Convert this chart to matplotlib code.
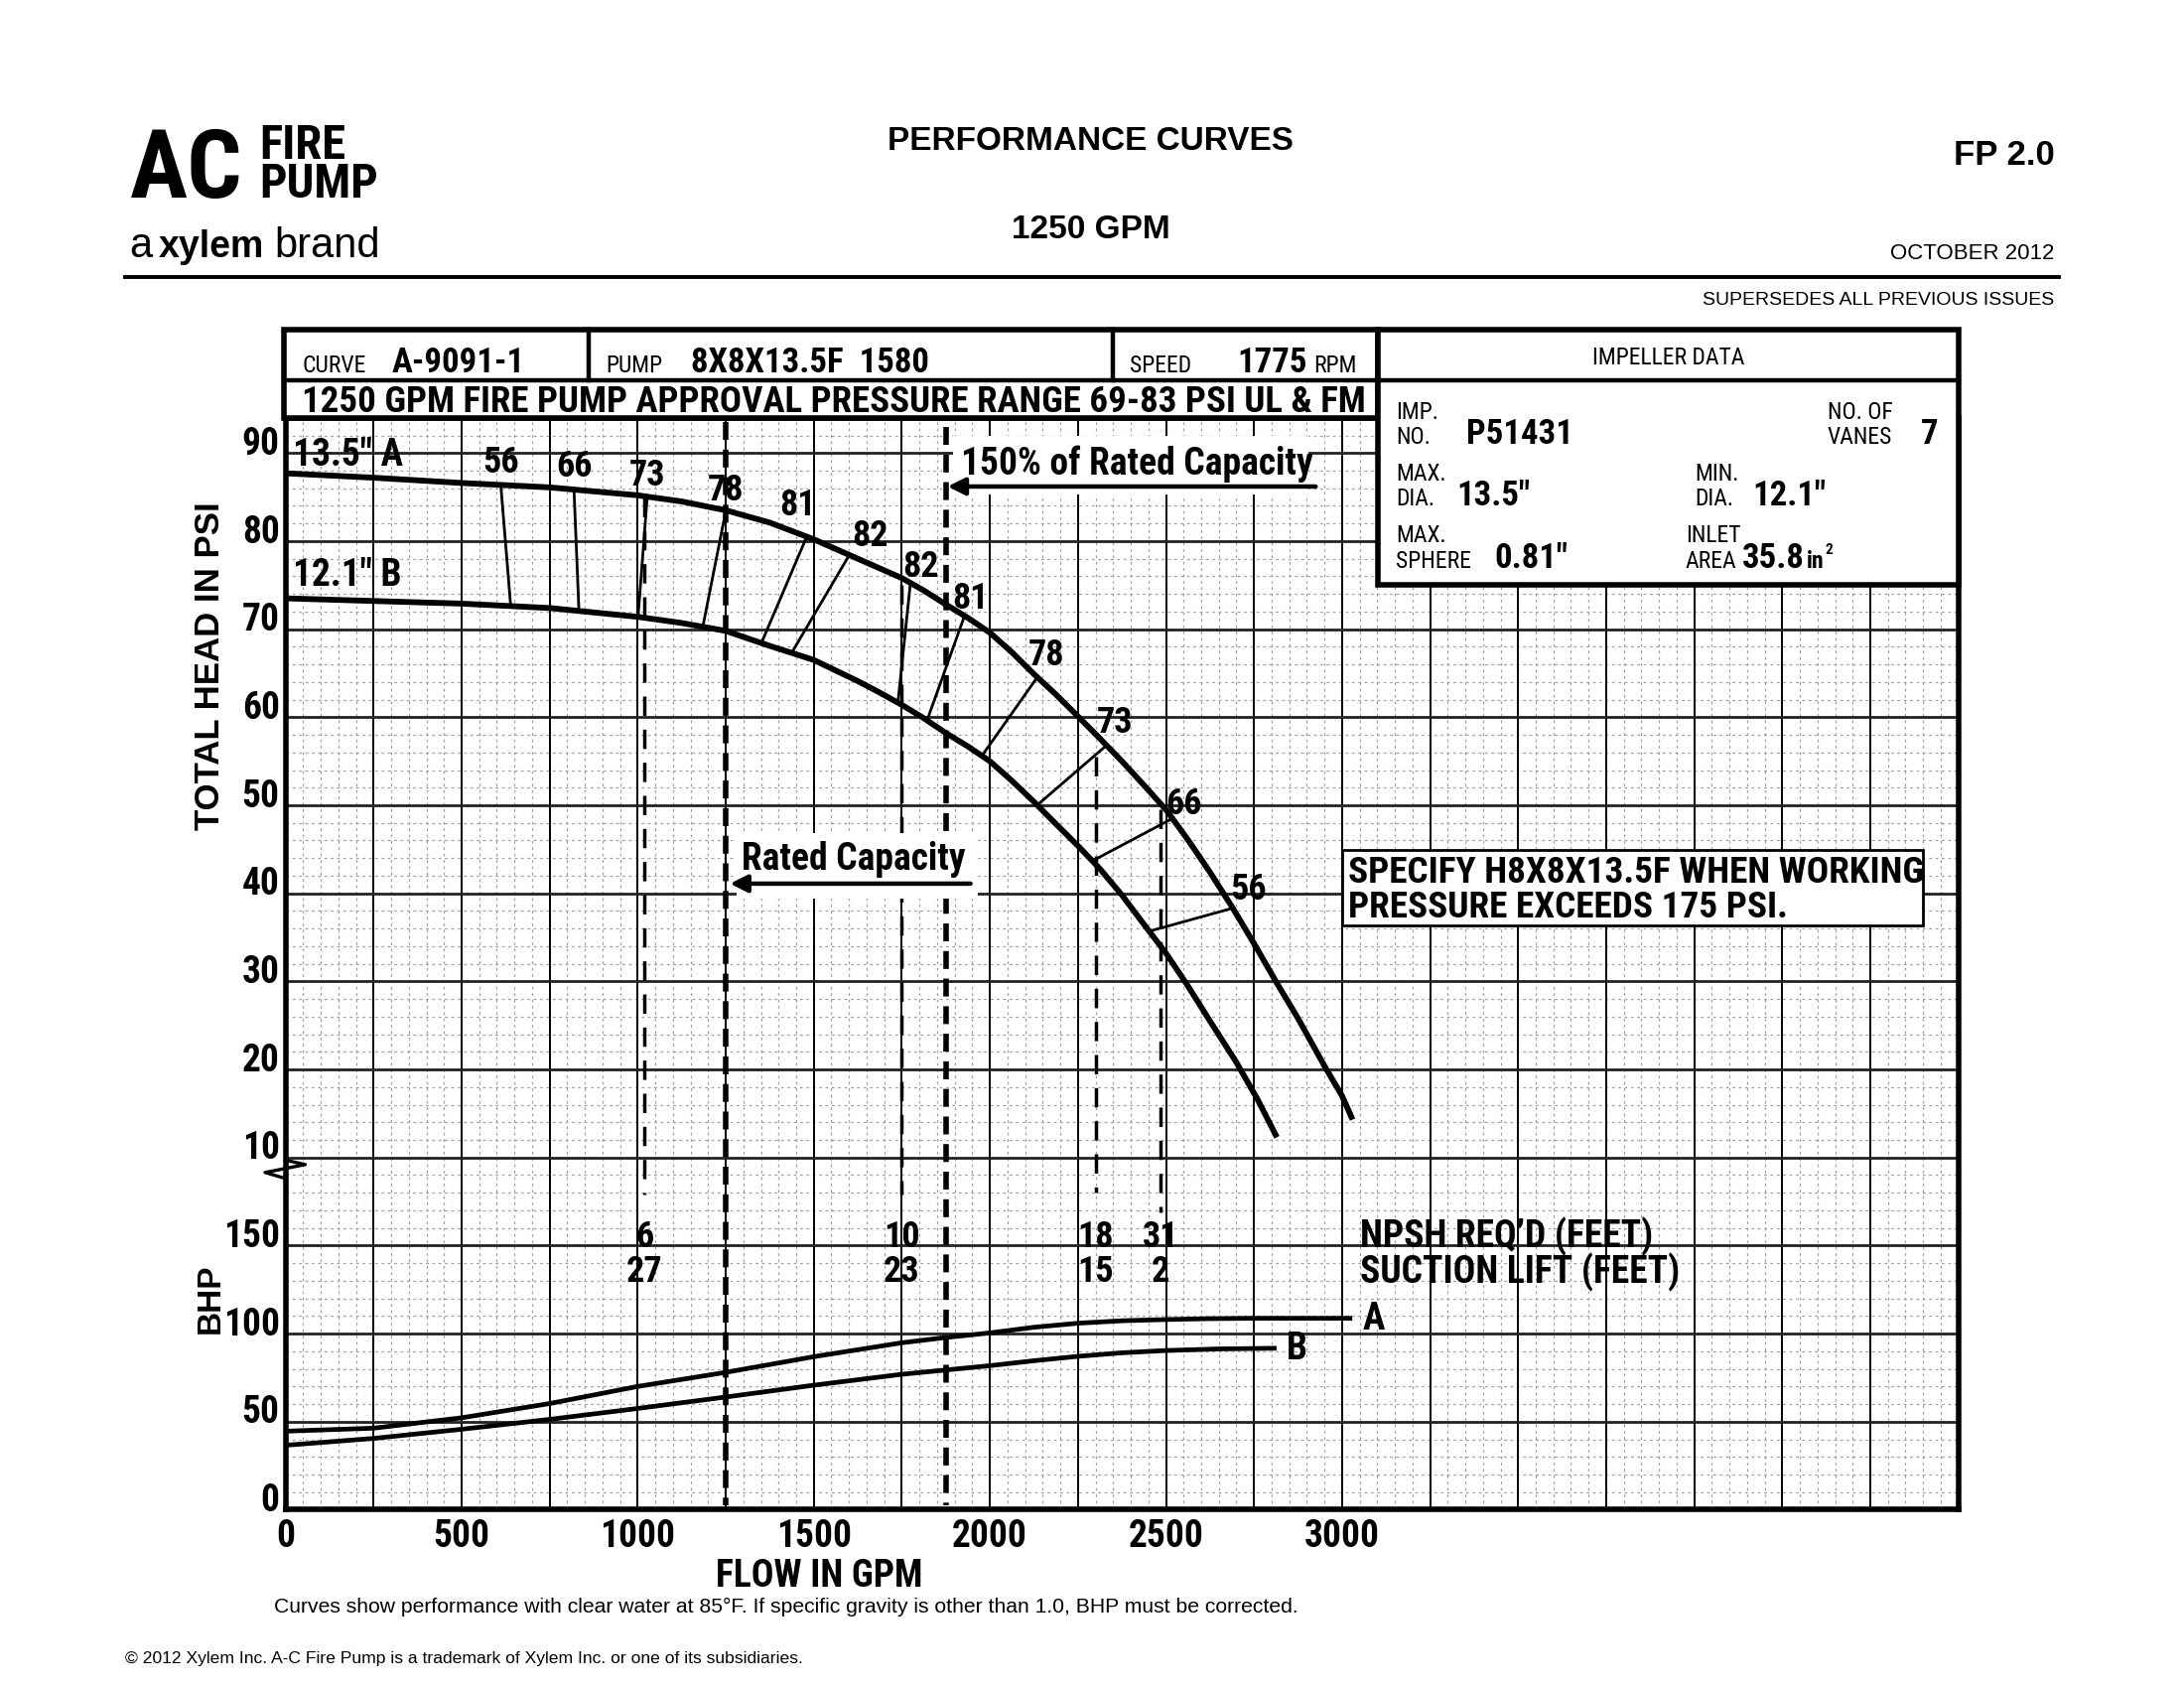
import numpy as np
import matplotlib
matplotlib.use('Agg')
import matplotlib.pyplot as plt
from matplotlib.patches import Rectangle
from matplotlib import font_manager
from matplotlib.transforms import blended_transform_factory

plt.rcParams['lines.scale_dashes'] = False

# ---------------- data ----------------
flow_a = [0, 250, 500, 750, 1000, 1125, 1250, 1375, 1500, 1625, 1750, 1812, 1875, 1937, 2000,
          2062, 2125, 2187, 2250, 2312, 2375, 2437, 2500, 2562, 2625, 2687, 2750, 2812,
          2875, 2950, 3000, 3030]
head_a = [87.7, 87.2, 86.6, 86.1, 85.2, 84.5, 83.5, 82.1, 80.2, 78.0, 75.8, 74.4, 72.8, 71.3, 69.6,
          67.4, 64.9, 62.6, 60.1, 57.6, 55.0, 52.3, 49.5, 46.1, 42.4, 38.5, 34.3, 30.0,
          25.8, 20.4, 17.0, 14.3]
flow_b = [0, 250, 500, 750, 1000, 1125, 1250, 1375, 1500, 1625, 1687, 1750, 1812, 1875, 1937,
          2000, 2062, 2125, 2187, 2250, 2312, 2375, 2437, 2500, 2562, 2625, 2700, 2760, 2815]
head_b = [73.5, 73.2, 72.9, 72.4, 71.4, 70.7, 69.8, 68.1, 66.5, 64.1, 62.8, 61.4, 59.9, 58.2, 56.7,
          55.0, 52.8, 50.4, 47.9, 45.4, 42.8, 39.8, 36.5, 33.2, 29.5, 25.5, 20.8, 16.6, 12.3]

bhp_flow_a = [0, 250, 500, 750, 1000, 1250, 1500, 1750, 1875, 2000, 2125, 2250, 2375, 2500,
              2625, 2750, 3029]
bhp_a = [44.6, 46.3, 52.2, 60.3, 70.0, 78.0, 86.9, 94.8, 97.8, 100.4, 103.6, 105.9, 107.3, 108.0,
         108.5, 108.7, 108.7]
bhp_flow_b = [0, 250, 500, 750, 1000, 1250, 1500, 1750, 2000, 2125, 2250, 2375, 2500, 2650, 2814]
bhp_b = [36.6, 40.5, 45.7, 51.3, 57.5, 64.0, 70.7, 76.9, 81.8, 84.6, 87.1, 89.1, 90.4, 91.3, 91.7]

eff_labels = ['56', '66', '73', '78', '81', '82', '82', '81', '78', '73', '66', '56']
eff_top_q = [611, 819, 1027, 1250, 1480, 1602, 1774, 1927, 2134, 2331, 2509, 2679]
eff_top_h = [86.5, 85.9, 85.0, 83.4, 80.5, 78.5, 75.1, 71.4, 64.5, 56.8, 48.3, 38.2]
eff_bot_q = [639, 833, 1001, 1185, 1351, 1437, 1739, 1824, 1977, 2134, 2292, 2453]
eff_bot_h = [72.8, 72.2, 71.4, 70.3, 68.4, 67.3, 61.7, 59.9, 55.6, 50.0, 43.7, 35.7]
eff_lab_q = [611, 819, 1027, 1250, 1454, 1659, 1803, 1945, 2161, 2355, 2552, 2734]
eff_lab_h = [88.9, 88.4, 87.4, 85.7, 84.1, 80.6, 77.1, 73.4, 67.0, 59.4, 50.1, 40.4]

npsh_q = [1020, 1750, 2300, 2485]
npsh_req = ['6', '10', '18', '31']
suction_lift = ['27', '23', '15', '2']
npsh_top = [85.0, 75.0, 55.5, 49.5]
npsh_bot = [5.8, 5.8, 6.0, 3.8]

rated_q = 1250
q150 = 1875

head_ticks = [10, 20, 30, 40, 50, 60, 70, 80, 90]
bhp_ticks = [0, 50, 100, 150]
flow_ticks = [0, 500, 1000, 1500, 2000, 2500, 3000]

# ---------------- fonts ----------------
avail = {f.name for f in font_manager.fontManager.ttflist}
narrow_name = 'DejaVu Sans'
for cand in ['Liberation Sans Narrow', 'Roboto Condensed', 'Open Sans Condensed', 'Roboto']:
    if cand in avail:
        narrow_name = cand
        break
NARROW = [narrow_name, 'DejaVu Sans']
SANS = ['Liberation Sans', 'DejaVu Sans']

# page coordinate helpers (reference pixel grid)
W, H = 1568.0, 1212.0
def fx(x):
    return x / W
def fy(y):
    return 1 - y / H

fig = plt.figure(figsize=(11, 8.5), dpi=200)
fig.patch.set_facecolor('white')

ax = fig.add_axes([fx(205), fy(1084), fx(1406) - fx(205), fy(300) - fy(1084)])
ax.set_xlim(0, 4750)
ax.set_ylim(-30, 94)

# grid
for x in np.arange(50, 4750, 50):
    if x % 250:
        ax.axvline(x, color='#a0a0a0', lw=0.45, ls=(0, (1, 1.3)), zorder=0.5)
for y in np.arange(-28, 94, 2):
    if y % 10:
        ax.axhline(y, color='#a0a0a0', lw=0.45, ls=(0, (1, 1.3)), zorder=0.5)
for x in np.arange(250, 4750, 250):
    ax.axvline(x, color='black', lw=0.7, zorder=0.8)
for y in np.arange(-20, 94, 10):
    ax.axhline(y, color='#222222', lw=1.0, zorder=0.8)

for s in ax.spines.values():
    s.set_linewidth(2.0)

ax.set_xticks(flow_ticks)
ax.set_xticklabels([str(v) for v in flow_ticks], fontfamily=NARROW, fontweight='bold', fontsize=13.5)
ax.tick_params(axis='x', length=0, pad=3)

# y tick labels (head above, BHP below), sitting just above their grid lines
ax.set_yticks([])
ylab_tr = blended_transform_factory(ax.transAxes, ax.transData)
ytick_pos = [b / 5 - 30 for b in bhp_ticks] + head_ticks
ytick_lab = [str(b) for b in bhp_ticks] + [str(h) for h in head_ticks]
for p, l in zip(ytick_pos, ytick_lab):
    ax.text(-0.0035, p + 1.0, l, transform=ylab_tr, ha='right', va='center',
            fontfamily=NARROW, fontweight='bold', fontsize=13.5, clip_on=False)

# axis break symbol
ax.plot([0, 56, -58, -3], [9.7, 9.2, 8.3, 7.65], color='black', lw=1.2, clip_on=False, zorder=5)

# head curves
ax.plot(flow_a, head_a, color='black', lw=2.1, zorder=4, solid_capstyle='butt', solid_joinstyle='round')
ax.plot(flow_b, head_b, color='black', lw=2.1, zorder=4, solid_capstyle='butt', solid_joinstyle='round')

# efficiency lines
for lab, tq, th, bq, bh, lq, lh in zip(eff_labels, eff_top_q, eff_top_h, eff_bot_q, eff_bot_h,
                                        eff_lab_q, eff_lab_h):
    ax.plot([tq, bq], [th, bh], color='black', lw=1.0, zorder=3.5)
    ax.text(lq, lh, lab, ha='center', va='center', fontfamily=NARROW, fontweight='bold',
            fontsize=13, zorder=6)

# curve labels
ax.text(20, 89.7, '13.5" A', ha='left', va='center', fontfamily=NARROW, fontweight='bold', fontsize=13.5, zorder=6)
ax.text(20, 76.1, '12.1" B', ha='left', va='center', fontfamily=NARROW, fontweight='bold', fontsize=13.5, zorder=6)

# NPSH thin dashed lines and labels
for q, t, b, r, s in zip(npsh_q, npsh_top, npsh_bot, npsh_req, suction_lift):
    ax.plot([q, q], [t, b], color='black', lw=1.25, dashes=(7, 5), zorder=3)
    ax.text(q, 1.0, r, ha='center', va='center', fontfamily=NARROW, fontweight='bold', fontsize=13, zorder=6)
    ax.text(q, -3.0, s, ha='center', va='center', fontfamily=NARROW, fontweight='bold', fontsize=13, zorder=6)
ax.text(3052, 1.0, 'NPSH REQ\u2019D (FEET)', ha='left', va='center', fontfamily=NARROW,
        fontweight='bold', fontsize=13.5, zorder=6)
ax.text(3052, -3.0, 'SUCTION LIFT (FEET)', ha='left', va='center', fontfamily=NARROW,
        fontweight='bold', fontsize=13.5, zorder=6)

# rated and 150% capacity lines
ax.plot([rated_q, rated_q], [93.5, -29.5], color='black', lw=2.0, dashes=(6.5, 3.5), zorder=3.6)
ax.plot([q150, q150], [93.0, -29.5], color='black', lw=2.0, dashes=(6.5, 3.5), zorder=3.6)

# white boxes behind the capacity notes
ax.add_patch(Rectangle((1895, 85.3), 1010, 6.6, facecolor='white', edgecolor='none', zorder=3.7))
ax.add_patch(Rectangle((1280, 39.4), 685, 7.4, facecolor='white', edgecolor='none', zorder=3.7))
ax.text(1917, 88.8, '150% of Rated Capacity', ha='left', va='center', fontfamily=NARROW,
        fontweight='bold', fontsize=13.5, zorder=6)
ax.annotate('', xy=(q150 + 5, 86.2), xytext=(2925, 86.2),
            arrowprops=dict(arrowstyle='-|>', color='black', lw=1.6, mutation_scale=13,
                            shrinkA=0, shrinkB=0), zorder=6)
ax.text(1295, 43.8, 'Rated Capacity', ha='left', va='center', fontfamily=NARROW,
        fontweight='bold', fontsize=13.5, zorder=6)
ax.annotate('', xy=(rated_q + 12, 41.1), xytext=(1945, 41.1),
            arrowprops=dict(arrowstyle='-|>', color='black', lw=1.6, mutation_scale=13,
                            shrinkA=0, shrinkB=0), zorder=6)

# specify box
ax.add_patch(Rectangle((3000, 36.3), 1650, 8.6, facecolor='white', edgecolor='black', lw=1.0, zorder=5))
ax.text(3016, 42.3, 'SPECIFY H8X8X13.5F WHEN WORKING', ha='left', va='center', fontfamily=NARROW,
        fontweight='bold', fontsize=13.4, zorder=6)
ax.text(3016, 38.4, 'PRESSURE EXCEEDS 175 PSI.', ha='left', va='center', fontfamily=NARROW,
        fontweight='bold', fontsize=13.4, zorder=6)

# BHP curves on twin axis
ax2 = ax.twinx()
ax2.set_ylim(0, 620)
ax2.set_yticks([])
for s in ax2.spines.values():
    s.set_visible(False)
ax2.plot(bhp_flow_a, bhp_a, color='black', lw=1.7, solid_capstyle='butt', solid_joinstyle='round')
ax2.plot(bhp_flow_b, bhp_b, color='black', lw=1.7, solid_capstyle='butt', solid_joinstyle='round')
ax2.text(3058, 108.3, 'A', ha='left', va='center', fontfamily=NARROW, fontweight='bold', fontsize=13.5)
ax2.text(2842, 91.3, 'B', ha='left', va='center', fontfamily=NARROW, fontweight='bold', fontsize=13.5)

# ---------------- overlay (page furniture) ----------------
ov = fig.add_axes([0, 0, 1, 1])
ov.set_xlim(0, W)
ov.set_ylim(H, 0)
ov.axis('off')
ov.patch.set_alpha(0)
renderer = fig.canvas.get_renderer()

def T(x, y, s, size, bold=False, fam=None, ha='left', va='baseline', **kw):
    return ov.text(x, y, s, fontsize=size, fontweight='bold' if bold else 'normal',
                   fontfamily=fam if fam else SANS, ha=ha, va=va, **kw)

def right_edge(t):
    bb = t.get_window_extent(renderer)
    return ov.transData.inverted().transform((bb.x1, bb.y0))[0]

# header boxes
ov.add_patch(Rectangle((204, 237), 785, 63, facecolor='white', edgecolor='black', lw=2.0, zorder=2))
ov.add_patch(Rectangle((989, 237), 417, 183, facecolor='white', edgecolor='black', lw=2.0, zorder=2))
ov.plot([204, 1406], [273, 273], color='black', lw=1.6, zorder=3)
ov.plot([423, 423], [237, 273], color='black', lw=1.6, zorder=3)
ov.plot([799, 799], [237, 273], color='black', lw=1.6, zorder=3)

T(217, 267, 'CURVE', 8.5, fam=NARROW)
T(281, 267, 'A-9091-1', 12.5, bold=True, fam=NARROW)
T(435, 267, 'PUMP', 8.5, fam=NARROW)
T(496, 267, '8X8X13.5F  1580', 12.5, bold=True, fam=NARROW)
T(811, 267, 'SPEED', 8.5, fam=NARROW)
t1775 = T(888, 267, '1775', 12.5, bold=True, fam=NARROW)
T(right_edge(t1775) + 5, 267, 'RPM', 8.5, fam=NARROW)
T(1198, 262, 'IMPELLER DATA', 8.5, fam=NARROW, ha='center')
T(217, 296, '1250 GPM FIRE PUMP APPROVAL PRESSURE RANGE 69-83 PSI UL & FM', 13.3, bold=True, fam=NARROW)

T(1002, 301, 'IMP.', 8.5, fam=NARROW)
T(1002, 319, 'NO.', 8.5, fam=NARROW)
T(1053, 319, 'P51431', 12.5, bold=True, fam=NARROW)
T(1312, 301, 'NO. OF', 8.5, fam=NARROW)
T(1312, 319, 'VANES', 8.5, fam=NARROW)
T(1379, 319, '7', 12.5, bold=True, fam=NARROW)
T(1002, 345, 'MAX.', 8.5, fam=NARROW)
T(1002, 363, 'DIA.', 8.5, fam=NARROW)
T(1046, 363, '13.5"', 12.5, bold=True, fam=NARROW)
T(1217, 345, 'MIN.', 8.5, fam=NARROW)
T(1217, 363, 'DIA.', 8.5, fam=NARROW)
T(1258, 363, '12.1"', 12.5, bold=True, fam=NARROW)
T(1002, 389, 'MAX.', 8.5, fam=NARROW)
T(1002, 408, 'SPHERE', 8.5, fam=NARROW)
T(1073, 408, '0.81"', 12.5, bold=True, fam=NARROW)
T(1210, 389, 'INLET', 8.5, fam=NARROW)
T(1210, 408, 'AREA', 8.5, fam=NARROW)
t358 = T(1251, 408, '35.8', 12.5, bold=True, fam=NARROW)
tin = T(right_edge(t358) + 1, 408, 'in', 8.5, bold=True, fam=NARROW)
T(right_edge(tin) + 1, 398, '2', 5.5, bold=True, fam=NARROW)

# titles
T(783, 108, 'PERFORMANCE CURVES', 12, bold=True, ha='center')
T(783, 171, '1250 GPM', 12, bold=True, ha='center')
T(1475, 118, 'FP 2.0', 12.5, bold=True, ha='right')
T(1475, 186, 'OCTOBER 2012', 8, ha='right')
T(1475, 219, 'SUPERSEDES ALL PREVIOUS ISSUES', 7, ha='right')
ov.plot([90, 1478], [199, 199], color='black', lw=1.4)

# logo
tac = T(93, 142, 'AC', 35, bold=True, fam=NARROW)
xf = max(186, right_edge(tac) + 2)
T(xf, 142, 'FIRE\nPUMP', 17.5, bold=True, fam=NARROW, linespacing=0.82)
T(93, 185, 'a', 15)
T(114, 185, 'xylem', 13.5, bold=True)
T(197, 185, 'brand', 15)

# axis titles
T(151, 478, 'TOTAL HEAD IN PSI', 12.5, bold=True, ha='center', va='center', rotation=90)
T(151, 932, 'BHP', 12, bold=True, ha='center', va='center', rotation=90)
T(588, 1132, 'FLOW IN GPM', 13.5, bold=True, fam=NARROW, ha='center', va='center')

# footers
T(197, 1158, 'Curves show performance with clear water at 85\u00b0F. If specific gravity is other than 1.0, BHP must be corrected.', 7.6)
T(90, 1194, '\u00a9 2012 Xylem Inc. A-C Fire Pump is a trademark of Xylem Inc. or one of its subsidiaries.', 6.3)

fig.savefig('out.png', dpi=200, facecolor='white')
